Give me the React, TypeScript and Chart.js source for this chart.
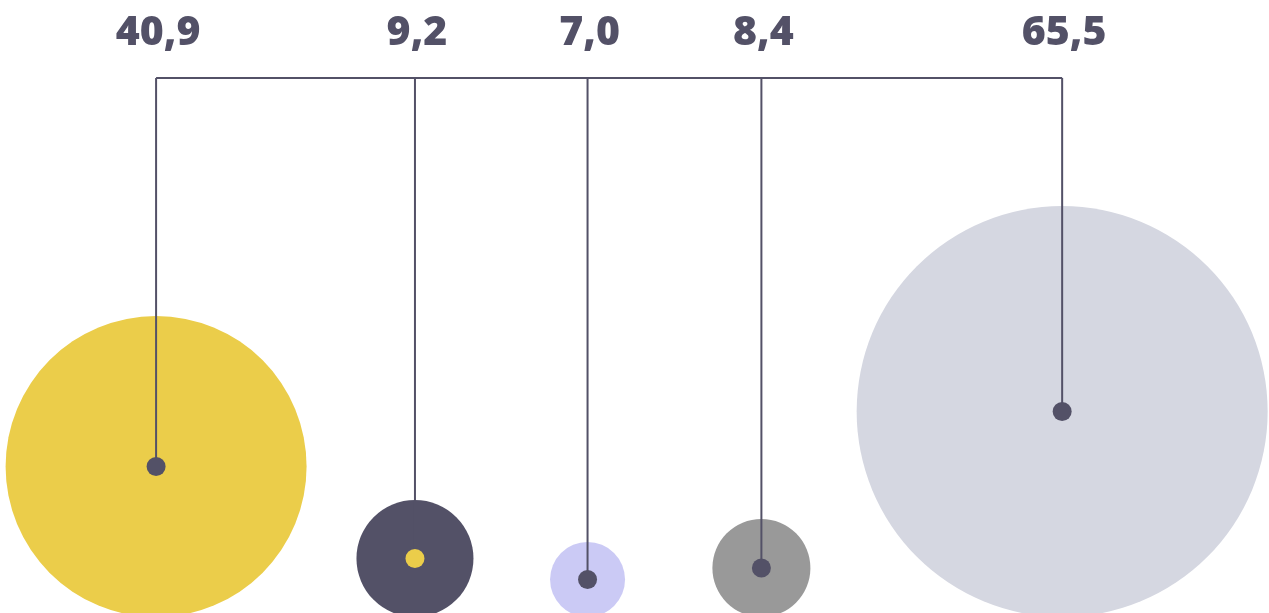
import React, { useEffect, useRef } from "react";
import { Chart, registerables } from "chart.js";

Chart.register(...registerables);

// Values shown above each bubble
const values = [40.9, 9.2, 7.0, 8.4, 65.5];
// Horizontal position of each bubble on a hidden 0–100 axis
const xValues = [12.3, 32.7, 46.3, 60.0, 83.7];
// Bubble radii (px)
const radii = [150.5, 58.5, 37.5, 49, 205.5];
const bubbleColors = ["#ebcd4a", "#535167", "#cbcaf5", "#999999", "#d5d7e1"];
const dotColors = ["#535167", "#ebcd4a", "#535167", "#535167", "#535167"];

const LINE_COLOR = "#535167";
const TEXT_COLOR = "#535167";

const fmt = (v: number) => v.toFixed(1).replace(".", ",");

const connectorPlugin = {
  id: "connectors",
  beforeDatasetDraw(chart: any, args: any) {
    if (args.index !== 1) return;
    const meta = chart.getDatasetMeta(1);
    const pts = meta.data;
    if (!pts.length) return;
    const ctx = chart.ctx;
    const topY = 78;
    ctx.save();
    ctx.strokeStyle = LINE_COLOR;
    ctx.lineWidth = 2;
    ctx.beginPath();
    ctx.moveTo(pts[0].x, topY);
    ctx.lineTo(pts[pts.length - 1].x, topY);
    pts.forEach((p: any) => {
      ctx.moveTo(p.x, topY);
      ctx.lineTo(p.x, p.y);
    });
    ctx.stroke();
    ctx.restore();
  },
  afterDatasetsDraw(chart: any) {
    const meta = chart.getDatasetMeta(1);
    const ctx = chart.ctx;
    ctx.save();
    ctx.fillStyle = TEXT_COLOR;
    ctx.font = "800 41px 'Open Sans', sans-serif";
    ctx.textAlign = "center";
    ctx.textBaseline = "middle";
    meta.data.forEach((p: any, i: number) => {
      ctx.fillText(fmt(values[i]), p.x + 2, 33);
    });
    ctx.restore();
  },
};

export default function App() {
  const ref = useRef<HTMLCanvasElement | null>(null);

  useEffect(() => {
    document.body.style.margin = "0";
    if (!ref.current) return;
    const chart = new Chart(ref.current, {
      type: "bubble",
      data: {
        datasets: [
          {
            label: "bubbles",
            data: values.map((v, i) => ({ x: xValues[i], y: radii[i], r: radii[i] })),
            backgroundColor: bubbleColors,
            borderWidth: 0,
            hoverRadius: 0,
            order: 2,
            clip: false,
          } as any,
          {
            label: "dots",
            data: values.map((v, i) => ({ x: xValues[i], y: radii[i], r: 9.5 })),
            backgroundColor: dotColors,
            borderWidth: 0,
            hoverRadius: 0,
            order: 1,
            clip: false,
          } as any,
        ],
      },
      options: {
        animation: false,
        responsive: true,
        maintainAspectRatio: false,
        layout: { padding: 0, autoPadding: false },
        events: [],
        scales: {
          x: { type: "linear", min: 0, max: 100, display: false },
          y: { type: "linear", min: 4, max: 617, display: false },
        },
        plugins: {
          legend: { display: false },
          tooltip: { enabled: false },
        },
      },
      plugins: [connectorPlugin],
    });
    return () => chart.destroy();
  }, []);

  return (
    <div style={{ width: 1269, height: 613, position: "relative" }}>
      <canvas ref={ref} />
    </div>
  );
}
